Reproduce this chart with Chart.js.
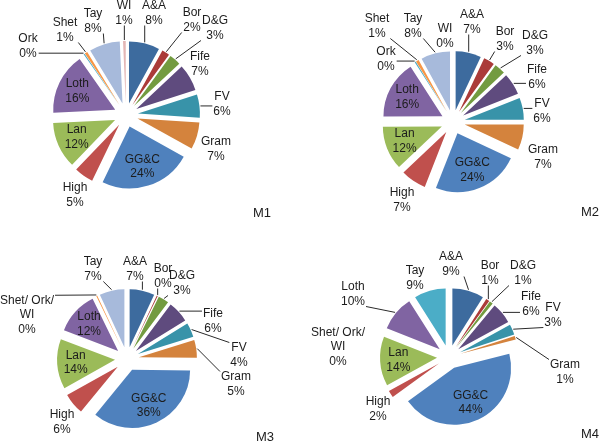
<!DOCTYPE html>
<html>
<head>
<meta charset="utf-8">
<script src="https://cdn.jsdelivr.net/npm/chart.js@4/dist/chart.umd.min.js"></script>
<style>
  html, body { margin: 0; padding: 0; background: #fff; }
  #wrap { position: relative; width: 600px; height: 444px; }
  canvas { position: absolute; }
</style>
</head>
<body>
<div id="wrap">
  <canvas id="m1" width="300" height="222" style="left:0;top:0"></canvas>
  <canvas id="m2" width="300" height="222" style="left:300px;top:0"></canvas>
  <canvas id="m3" width="300" height="222" style="left:0;top:222px"></canvas>
  <canvas id="m4" width="300" height="222" style="left:300px;top:222px"></canvas>
</div>
<script>
// regions and their share (%) of each model
const regions1 = ['A&A', 'Bor', 'D&G', 'Fife', 'FV', 'Gram', 'GG&C', 'High', 'Lan', 'Loth', 'Ork', 'Shet', 'Tay', 'WI'];
const shares1 = [8, 2, 3, 7, 6, 7, 24, 5, 12, 16, 0.3, 0.7, 8, 0.7];

const regions2 = ['A&A', 'Bor', 'D&G', 'Fife', 'FV', 'Gram', 'GG&C', 'High', 'Lan', 'Loth', 'Ork', 'Shet', 'Tay', 'WI'];
const shares2 = [7, 3, 3, 6, 6, 7, 24, 7, 12, 16, 0.3, 0.8, 8, 0];

const regions3 = ['A&A', 'Bor', 'D&G', 'Fife', 'FV', 'Gram', 'GG&C', 'High', 'Lan', 'Loth', 'Shet/ Ork/\nWI', 'Tay'];
const shares3 = [7, 0.3, 3, 6, 4, 5, 36, 6, 14, 12, 0.3, 7];

const regions4 = ['A&A', 'Bor', 'D&G', 'Fife', 'FV', 'Gram', 'GG&C', 'High', 'Lan', 'Shet/ Ork/\nWI', 'Loth', 'Tay'];
const shares4 = [9, 1, 1, 6, 3, 1, 44, 2, 14, 0, 10, 9];

const modelNames = ['M1', 'M2', 'M3', 'M4'];

// colours
const dkBlue = '#3d6b9e', dkRed = '#ab3b39', dkGreen = '#739b40', dkPurple = '#5f4b7e',
      dkTeal = '#3893a9', dkOrange = '#d4833d', blue = '#4f81bd', red = '#c0504d',
      green = '#9bbb59', purple = '#8064a2', aqua = '#4bacc6', orange = '#f79646',
      ltBlue = '#a7badb', pink = '#e3b6b5';
const colors1 = [dkBlue, dkRed, dkGreen, dkPurple, dkTeal, dkOrange, blue, red, green, purple, aqua, orange, ltBlue, pink];
const colors3 = [dkBlue, dkRed, dkGreen, dkPurple, dkTeal, dkOrange, blue, red, green, purple, orange, ltBlue];
const colors4 = [dkBlue, dkRed, dkGreen, dkPurple, dkTeal, dkOrange, blue, red, green, orange, purple, '#4badc7'];

// label block centre relative to pie centre (null = inside the slice), and leader line on/off
const place1 = [[28,-102],[66,-95],[89,-87],[74,-51],[96,-11],[90,34],null,[-51,80],null,null,[-98,-69],[-61,-85],[-33,-94],[-2,-102]];
const lead1 = [1,1,1,0,1,0,0,0,0,0,1,1,1,1];
const place2 = [[19,-100],[52,-83],[82,-79],[84,-45],[89,-11],[90,35],null,[-51,78],null,null,[-67,-63],[-76,-96],[-40,-96],[-8,-86]];
const lead2 = [1,1,1,1,1,0,0,0,0,0,1,1,1,0];
const place3 = [[8,-90],[36,-83],[55,-76],[86,-38],[112,-4],[109,25],null,[-65,63],null,null,[-100,-44],[-34,-90]];
const lead3 = [1,1,1,1,1,1,0,0,0,0,1,1];
const place4 = [[2,-93],[41,-84],[74,-84],[82,-53],[104,-42],[116,15],null,[-71,52],null,[-111,-10],[-96,-63],[-34,-79]];
const lead4 = [1,1,1,1,1,1,0,0,0,0,1,0];

const FONT = '12px "Liberation Sans", Arial, sans-serif';
const NAME_FONT = '13px "Liberation Sans", Arial, sans-serif';
const LINE_H = 14.5;
const EXPLODE = 12;

// pulls every slice out from the centre, then draws "name / xx%" labels and the model name
const explodedPie = {
    id: 'explodedPie',
    beforeDatasetDraw(chart) {
        const ctx = chart.ctx;
        chart.getDatasetMeta(0).data.forEach(arc => {
            const mid = (arc.startAngle + arc.endAngle) / 2;
            ctx.save();
            ctx.translate(Math.cos(mid) * EXPLODE, Math.sin(mid) * EXPLODE);
            arc.draw(ctx);
            ctx.restore();
        });
        return false;
    },
    afterDatasetsDraw(chart, args, opts) {
        const ctx = chart.ctx;
        const meta = chart.getDatasetMeta(0);
        const values = chart.data.datasets[0].data;
        const total = values.reduce((a, b) => a + b, 0);
        ctx.save();
        ctx.font = FONT;
        ctx.textAlign = 'center';
        ctx.textBaseline = 'middle';
        meta.data.forEach((arc, i) => {
            const p = arc.getProps(['x', 'y', 'startAngle', 'endAngle', 'outerRadius'], true);
            const mid = (p.startAngle + p.endAngle) / 2;
            const lines = chart.data.labels[i].split('\n');
            lines.push(Math.round(values[i] / total * 100) + '%');
            const pos = opts.place[i];
            let lx, ly;
            if (pos) {
                lx = p.x + pos[0];
                ly = p.y + pos[1];
            } else {
                const d = EXPLODE + p.outerRadius * 0.68;
                lx = p.x + Math.cos(mid) * d;
                ly = p.y + Math.sin(mid) * d;
            }
            const w = Math.max(...lines.map(t => ctx.measureText(t).width));
            const h = lines.length * LINE_H;
            if (opts.lead[i]) {
                const sd = EXPLODE + p.outerRadius + 1;
                const sx = p.x + Math.cos(mid) * sd;
                const sy = p.y + Math.sin(mid) * sd;
                const ex = Math.min(Math.max(sx, lx - w / 2 - 1), lx + w / 2 + 1);
                const ey = Math.min(Math.max(sy, ly - h / 2 + 2), ly + h / 2 - 2);
                ctx.strokeStyle = '#2a2a2a';
                ctx.lineWidth = 1;
                ctx.beginPath();
                ctx.moveTo(sx, sy);
                ctx.lineTo(ex, ey);
                ctx.stroke();
            }
            ctx.fillStyle = '#1c1c1c';
            lines.forEach((t, k) => {
                ctx.fillText(t, lx, ly - h / 2 + LINE_H * (k + 0.5));
            });
        });
        ctx.font = NAME_FONT;
        ctx.fillText(opts.name, opts.namePos[0], opts.namePos[1]);
        ctx.restore();
    }
};

function drawPie(id, labels, values, colors, R, padding, place, lead, name, namePos) {
    const ctx = document.getElementById(id).getContext('2d');
    return new Chart(ctx, {
        type: 'pie',
        data: {
            labels: labels,
            datasets: [{
                data: values,
                backgroundColor: colors,
                borderWidth: 0
            }]
        },
        options: {
            responsive: false,
            animation: false,
            radius: R,
            layout: { padding: padding },
            plugins: {
                legend: { display: false },
                tooltip: { enabled: false },
                explodedPie: { place: place, lead: lead, name: name, namePos: namePos }
            }
        },
        plugins: [explodedPie]
    });
}

drawPie('m1', regions1, shares1, colors1, 62, { left: 0, right: 48, top: 8, bottom: 0 }, place1, lead1, modelNames[0], [262, 213]);
drawPie('m2', regions2, shares2, colors1, 59, { left: 6, right: 0, top: 22, bottom: 0 }, place2, lead2, modelNames[1], [290, 212]);
drawPie('m3', regions3, shares3, colors3, 58, { left: 0, right: 46, top: 52, bottom: 0 }, place3, lead3, modelNames[2], [265, 215]);
drawPie('m4', regions4, shares4, colors4, 57, { left: 0, right: 2, top: 48, bottom: 0 }, place4, lead4, modelNames[3], [290, 212]);
</script>
</body>
</html>
